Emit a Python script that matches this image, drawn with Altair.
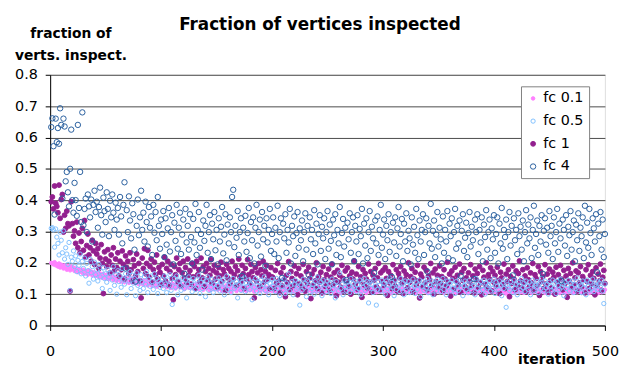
import altair as alt
import pandas as pd

series_names = ["fc 0.1", "fc 0.5", "fc 1", "fc 4"]
series_colors = ["#FF80FF", "#80C0FF", "#921F8E", "#2A5F9E"]
series_fill = ["#FF80FF", "transparent", "#921F8E", "transparent"]
series_size = [13, 30, 11, 30]
draw_order = ["fc 0.1", "fc 1", "fc 0.5", "fc 4"]
x_ticks = [0, 100, 200, 300, 400, 500]
y_ticks = [0, 0.1, 0.2, 0.3, 0.4, 0.5, 0.6, 0.7, 0.8]

# values in thousandths, one per iteration (1..500)
fc01 = [
    200,198,195,202,192,196,188,198,185,194,190,182,192,186,178,190,184,176,188,180,185,174,182,178,170,
    180,172,176,168,178,165,174,170,162,176,166,172,160,170,164,158,168,162,155,166,160,152,164,158,150,
    162,155,148,160,152,158,145,156,150,142,155,148,152,140,150,145,138,152,144,148,136,146,142,150,138,
    144,135,148,140,132,146,138,142,130,144,136,140,128,142,134,138,126,140,132,136,124,138,130,134,128,
    135,126,138,130,122,136,128,132,120,134,126,130,118,132,124,128,138,122,130,126,116,132,124,128,120,
    130,122,126,118,128,120,132,124,116,126,120,128,114,124,130,118,122,126,112,124,120,116,128,118,122,
    114,126,118,122,110,124,116,120,128,112,122,118,108,124,116,120,126,110,118,122,114,126,112,120,116,
    122,110,118,124,112,120,116,126,108,118,122,114,120,110,124,116,118,112,122,106,120,114,118,124,110,
    116,122,108,118,114,124,110,120,116,112,122,106,118,114,120,110,124,116,108,118,112,122,114,106,120,
    112,118,124,108,116,120,110,118,114,122,106,116,112,120,108,118,124,110,116,112,120,104,118,114,110,
    120,108,116,112,122,106,118,114,110,120,116,104,118,112,122,108,114,118,110,116,120,106,112,118,114,
    108,118,112,120,106,116,110,122,114,104,118,112,116,108,120,110,114,118,106,112,120,108,116,110,114,
    118,106,112,116,110,120,104,114,118,108,112,116,106,120,110,114,108,118,112,104,116,110,120,106,112,
    114,108,118,110,104,116,112,120,106,110,114,118,108,112,104,116,110,118,106,114,110,120,108,112,116,
    106,114,110,118,104,112,116,108,120,110,106,114,118,108,112,104,116,110,114,106,118,112,108,116,110,
    104,114,108,118,112,106,116,110,104,114,120,108,112,106,116,110,114,104,118,108,112,116,106,110,114,
    108,116,104,112,118,106,110,114,108,116,102,112,118,106,110,114,108,116,104,112,118,108,114,106,110,
    116,104,112,108,118,106,114,110,104,116,108,112,118,106,110,102,114,108,116,112,104,110,118,106,112,
    108,114,104,116,110,106,118,112,104,110,116,108,112,104,118,110,106,114,108,116,104,112,110,118,106,
    112,108,116,104,110,114,106,118,108,112,104,116,110,106,114,108,118,112,104,110,116,106,112,108,114,
]

fc05 = [
    310,312,305,250,308,282,262,225,298,272,232,302,212,248,228,195,265,112,218,205,238,188,222,172,208,
    192,228,165,205,182,215,158,198,175,135,212,168,188,148,202,162,178,142,195,155,172,118,185,150,165,
    138,178,155,112,168,145,188,128,162,100,175,140,158,122,182,148,132,165,98,155,142,172,118,160,135,
    150,95,168,128,145,112,162,138,118,155,132,172,105,148,125,158,140,115,165,130,150,102,142,122,135,
    148,118,158,132,105,145,128,162,112,67,138,150,122,158,98,142,128,112,152,135,118,145,88,132,155,
    122,140,108,150,130,115,145,125,160,102,138,118,148,128,92,142,155,112,135,122,148,105,130,118,140,
    128,152,110,138,120,145,98,132,158,115,128,142,105,135,150,118,125,140,88,132,148,112,138,122,152,
    108,135,125,145,115,132,82,140,122,150,110,128,138,102,145,120,132,155,112,128,142,98,135,118,148,
    125,138,108,150,118,132,95,142,125,112,148,102,135,120,165,110,128,140,98,132,145,115,122,138,65,
    130,112,148,120,135,92,142,125,108,150,118,132,100,140,122,155,112,128,138,95,145,118,130,108,142,
    120,135,102,148,115,130,88,140,125,110,168,118,132,98,145,122,112,138,128,105,150,115,135,120,142,
    108,130,118,145,98,135,122,150,112,128,140,72,138,118,132,105,148,125,65,115,140,128,110,145,122,
    135,100,142,118,128,152,110,138,122,95,145,115,132,125,108,150,120,135,98,142,112,128,140,105,132,
    118,148,125,102,138,115,130,145,92,125,140,112,135,120,150,105,130,118,142,98,135,125,110,148,122,
    138,108,132,150,115,128,98,142,122,135,110,145,118,130,102,140,125,112,148,120,135,95,128,142,115,
    130,105,145,122,112,138,128,98,150,118,132,108,140,125,115,145,100,135,120,128,142,110,132,118,148,
    102,138,125,115,142,128,95,135,118,148,58,130,122,112,140,125,105,145,118,132,98,138,128,112,150,
    120,135,108,142,125,115,138,98,130,145,112,128,122,140,105,135,118,150,128,110,142,120,132,100,138,
    125,112,145,118,135,102,140,128,115,148,122,132,95,138,118,128,145,110,135,122,142,105,130,118,152,
    115,135,128,105,142,120,132,98,145,125,112,138,118,148,108,130,125,140,115,135,122,145,110,70,132,
]

fc1 = [
    395,410,372,445,390,380,360,448,342,402,418,298,352,310,365,325,318,110,395,325,285,302,262,330,248,
    295,232,268,310,240,335,218,255,292,225,248,205,272,238,195,262,228,245,182,215,258,198,102,235,212,
    188,242,205,168,225,192,248,175,212,185,232,158,205,178,238,195,148,222,185,205,165,232,178,142,210,
    190,158,228,172,198,142,88,215,182,245,165,198,240,155,188,212,138,178,202,162,225,148,185,170,130,
    195,158,218,142,182,205,128,172,195,150,82,188,162,215,140,178,198,125,168,205,152,185,138,212,160,
    175,132,198,155,188,118,205,162,178,140,215,152,188,125,172,198,145,182,160,210,135,175,192,148,168,
    122,185,158,202,140,178,165,112,195,152,182,135,172,205,148,162,188,128,175,212,155,140,192,165,118,
    182,148,210,162,135,195,172,152,88,185,142,168,198,125,178,158,205,138,172,192,148,162,118,185,155,
    152,118,176,135,198,142,105,168,126,185,148,92,160,137,204,115,172,150,128,190,140,165,98,182,132,
    158,120,195,145,110,172,134,186,150,86,164,128,178,142,200,118,156,138,170,104,188,146,125,162,135,
    180,112,154,196,130,168,145,95,176,138,160,122,192,150,108,174,140,184,126,158,100,170,148,206,132,
    164,116,188,142,155,90,178,130,166,148,120,196,138,172,106,160,145,182,124,152,198,114,168,140,176,
    128,185,150,96,172,136,160,118,194,144,126,178,110,166,152,188,134,102,174,146,162,120,200,138,156,
    182,108,148,170,130,192,142,88,164,154,124,186,136,176,114,158,146,198,128,168,100,180,140,160,122,
    190,134,156,112,178,148,126,202,138,164,94,174,150,118,186,142,160,130,196,106,170,144,182,124,152,
    116,168,140,194,128,158,104,180,146,166,122,188,136,98,176,154,132,200,120,162,148,184,110,172,138,
    160,126,186,144,102,170,152,130,196,118,164,140,178,92,156,134,190,148,114,174,128,166,206,142,120,
    178,138,158,108,184,146,124,168,136,198,112,162,150,128,188,96,172,140,156,118,194,132,164,106,180,
    144,120,170,154,100,186,138,162,126,192,148,114,176,134,158,90,182,142,166,122,200,130,152,174,110,
    168,136,188,124,156,146,104,178,140,194,118,160,132,172,150,98,184,128,164,142,196,112,154,176,134,
]

fc4 = [
    633,661,572,354,660,585,630,580,693,640,405,660,635,460,490,425,380,500,625,400,360,455,400,350,640,375,490,330,680,320,
    372,405,298,418,380,345,402,268,385,430,362,395,312,378,440,352,290,408,365,330,425,372,285,398,345,418,360,305,392,338,
    375,290,410,348,262,385,457,182,368,298,412,335,278,390,355,242,140,318,402,288,
    345,430,305,360,268,395,330,252,378,312,348,225,385,296,362,272,410,318,245,338,
    292,365,218,342,258,310,375,236,298,352,195,328,270,385,245,312,360,228,290,338,165,372,265,318,242,
    355,282,198,340,265,388,225,305,362,248,292,178,335,270,318,385,232,298,352,212,325,275,362,240,305,
    195,342,268,315,378,230,290,355,208,322,262,345,298,410,433,250,318,280,365,225,298,342,158,312,268,
    350,235,295,375,215,330,272,345,198,312,385,255,298,338,220,362,275,318,190,342,265,305,372,238,292,
    345,228,312,268,382,215,298,342,152,325,278,355,232,305,265,372,198,318,285,348,222,295,362,248,310,
    272,335,205,298,358,242,318,162,345,275,305,228,368,262,325,195,292,352,238,315,278,342,212,298,365,
    245,322,270,195,338,288,355,225,305,262,378,218,295,340,252,312,145,328,275,358,232,298,345,205,318,
    268,352,228,308,285,372,198,325,255,342,215,298,365,238,315,278,168,335,262,348,225,305,385,248,290,
    338,212,318,272,355,235,298,155,328,265,345,222,310,378,252,292,340,205,325,268,358,238,302,278,195,
    345,258,315,232,372,288,212,335,268,305,355,225,298,342,172,318,262,388,245,302,335,218,290,362,252,
    312,275,198,348,232,305,268,365,215,325,285,342,208,298,372,245,318,262,335,158,302,355,238,280,328,
    218,295,362,252,315,272,148,338,298,355,228,305,265,345,205,322,282,368,242,298,338,215,310,275,352,
    232,292,345,198,325,262,375,245,305,282,338,212,298,362,255,318,160,342,272,305,228,358,285,315,242,
    335,205,298,368,262,322,278,345,215,305,382,248,292,335,225,318,268,352,165,302,342,258,312,232,365,
    285,318,212,345,262,298,372,235,325,278,142,338,305,255,352,222,315,288,365,242,298,335,205,322,272,
    358,238,312,285,345,215,382,265,328,248,372,295,225,342,310,268,355,170,325,285,362,242,338,218,292,
]

series_values = {"fc 0.1": fc01, "fc 0.5": fc05, "fc 1": fc1, "fc 4": fc4}
rows = []
for name in draw_order:
    for i, v in enumerate(series_values[name]):
        rows.append({"iteration": i + 1, "value": v / 1000.0, "series": name})
df = pd.DataFrame(rows)

FONT = "DejaVu Sans"

leg = alt.Legend(
    title=None, orient="none", legendX=477, legendY=11.7,
    labelFont=FONT, labelFontSize=14.5, labelColor="black", labelOffset=3,
    fillColor="white", strokeColor="#808080", padding=5, rowPadding=8,
    symbolType="circle", symbolStrokeWidth=1,
)

chart = alt.Chart(df).mark_point(
    shape="circle", strokeWidth=1, opacity=1, filled=False
).encode(
    x=alt.X("iteration:Q",
            scale=alt.Scale(domain=[0, 500], nice=False, zero=False),
            axis=alt.Axis(values=x_ticks, grid=False, title="iteration",
                          titleX=507.6, titleY=38.5, titleAlign="center",
                          titleBaseline="alphabetic", titleFont=FONT,
                          titleFontSize=14, titleFontWeight="bold", titleColor="black",
                          labelFont=FONT, labelFontSize=14.5, labelColor="black",
                          labelPadding=14, labelFlush=False, tickSize=5,
                          tickColor="black", domainColor="black")),
    y=alt.Y("value:Q",
            scale=alt.Scale(domain=[0, 0.8], nice=False),
            axis=alt.Axis(values=y_ticks, format="~g", grid=True, gridColor="#4a4a4a",
                          title=["fraction of", "verts. inspect."], titleAngle=0,
                          titleX=20.6, titleY=-37.6, titleAlign="center",
                          titleBaseline="alphabetic", titleLineHeight=22,
                          titleFont=FONT, titleFontSize=14, titleFontWeight="bold",
                          titleColor="black", labelFont=FONT, labelFontSize=14.5,
                          labelColor="black", labelPadding=8, labelFlush=False,
                          tickSize=5, tickColor="black", domainColor="black")),
    stroke=alt.Stroke("series:N", scale=alt.Scale(domain=series_names, range=series_colors), legend=leg),
    fill=alt.Fill("series:N", scale=alt.Scale(domain=series_names, range=series_fill), legend=leg),
    size=alt.Size("series:N", scale=alt.Scale(domain=series_names, range=series_size), legend=leg),
).properties(
    width=562, height=254,
    title=alt.TitleParams("Fraction of vertices inspected", font=FONT, fontSize=17,
                          fontWeight="bold", color="black", anchor="middle",
                          frame="group", dx=-7.7, dy=20, offset=0, baseline="alphabetic"),
    autosize=alt.AutoSizeParams(type="none"),
    padding={"left": 42.7, "top": 65.3, "right": 15.3, "bottom": 39.7},
).configure_view(stroke="#4a4a4a").configure(background="white")

chart.save("out.html", embed_options={"renderer": "svg", "actions": False})
